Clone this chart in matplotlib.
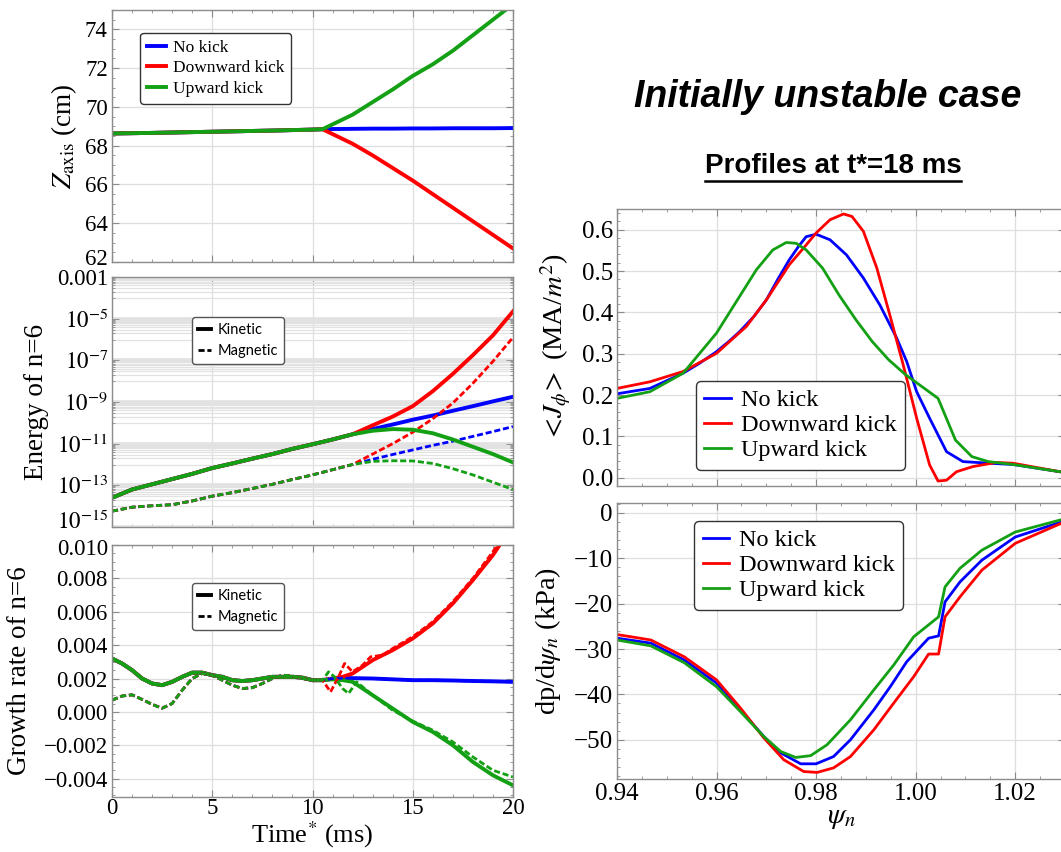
import numpy as np
import matplotlib
matplotlib.use("Agg")
import matplotlib.pyplot as plt
import matplotlib.transforms as mtransforms
from matplotlib.ticker import MultipleLocator, FixedLocator, FuncFormatter, NullFormatter
from matplotlib.lines import Line2D

plt.rcParams['font.family'] = ['Liberation Serif', 'DejaVu Serif']
plt.rcParams['mathtext.fontset'] = 'stix'

BLUE, RED, GREEN = '#0000ff', '#ff0000', '#14a014'
cases = ['No kick', 'Downward kick', 'Upward kick']

# ---- Z_axis vs time
t_z_pre = [0, 2, 4, 6, 8, 10, 10.5]
z_pre = [68.63, 68.66, 68.70, 68.74, 68.78, 68.83, 68.85]
t_z_post = [10.5, 11, 12, 13, 14, 15, 16, 17, 18, 19, 20]
z_nokick = [68.85, 68.86, 68.87, 68.88, 68.88, 68.89, 68.89, 68.90, 68.90, 68.90, 68.91]
z_down = [68.85, 68.6, 68.1, 67.5, 66.85, 66.2, 65.5, 64.8, 64.1, 63.4, 62.7]
z_up = [68.85, 69.1, 69.6, 70.25, 70.9, 71.6, 72.2, 72.9, 73.7, 74.5, 75.3]

# ---- energy of n=6 (log10 values)
t_e_pre = [0, 1, 2, 3, 4, 5, 6, 7, 8, 9, 10, 11, 12]
ek_pre = [-13.6, -13.2, -12.95, -12.7, -12.45, -12.17, -11.95, -11.72, -11.5, -11.25, -11.03, -10.8, -10.55]
em_pre = [-14.24, -14.05, -13.98, -13.93, -13.75, -13.52, -13.35, -13.15, -12.95, -12.72, -12.5, -12.25, -12.0]
t_e_post = [12, 13, 14, 15, 16, 17, 18, 19, 20]
ek_nokick = [-10.55, -10.3, -10.08, -9.85, -9.65, -9.42, -9.2, -8.97, -8.75]
ek_down = [-10.55, -10.12, -9.7, -9.2, -8.48, -7.65, -6.75, -5.8, -4.65]
ek_up = [-10.55, -10.38, -10.3, -10.33, -10.5, -10.8, -11.15, -11.5, -11.9]
em_nokick = [-12.0, -11.75, -11.52, -11.3, -11.08, -10.88, -10.65, -10.42, -10.18]
em_down = [-12.0, -11.5, -11.0, -10.45, -9.8, -9.05, -8.1, -7.05, -5.9]
em_up = [-12.0, -11.85, -11.82, -11.83, -11.95, -12.2, -12.5, -12.85, -13.2]

# ---- growth rate of n=6
t_g_pre = [0, 0.5, 1, 1.5, 2, 2.5, 3, 3.5, 4, 4.5, 5, 5.5, 6, 6.5, 7, 7.5, 8, 8.5, 9, 9.5, 10, 10.5]
gk_pre = [0.0032, 0.0029, 0.0025, 0.0020, 0.0017, 0.0016, 0.0018, 0.0021, 0.00235, 0.00235, 0.0022,
          0.0021, 0.0019, 0.00185, 0.0019, 0.0020, 0.0021, 0.0021, 0.0021, 0.00205, 0.0019, 0.0019]
gm_pre = [0.0007, 0.00095, 0.00102, 0.00075, 0.00045, 0.00022, 0.0005, 0.0013, 0.0020, 0.0023, 0.0022,
          0.0019, 0.0016, 0.0014, 0.00145, 0.0017, 0.0020, 0.0022, 0.00215, 0.0020, 0.0019, 0.0019]
t_gk_post = [10.5, 11, 11.5, 12, 13, 14, 15, 16, 17, 18, 19, 20]
gk_nokick = [0.0019, 0.0020, 0.00202, 0.00202, 0.0020, 0.00195, 0.0019, 0.0019, 0.00188, 0.00185, 0.00183, 0.0018]
gk_down = [0.0019, 0.0020, 0.0021, 0.0023, 0.0031, 0.0037, 0.0044, 0.0053, 0.0065, 0.0079, 0.0094, 0.0112]
gk_up = [0.0019, 0.00195, 0.0019, 0.0018, 0.0010, 0.0002, -0.0006, -0.0012, -0.0020, -0.0030, -0.0038, -0.0044]
t_gm_down = [10.5, 10.9, 11.3, 11.6, 12.0, 12.5, 12.9, 13.5, 14, 15, 16, 17, 18, 19, 20]
gm_down = [0.0019, 0.0012, 0.0021, 0.0029, 0.0024, 0.0028, 0.0033, 0.0034, 0.0038, 0.0045, 0.0054,
           0.0066, 0.0080, 0.0096, 0.0114]
t_gm_up = [10.5, 10.8, 11.1, 11.5, 11.8, 12.2, 13, 14, 15, 16, 17, 18, 19, 20]
gm_up = [0.0019, 0.0024, 0.0021, 0.0014, 0.0011, 0.0018, 0.0010, 0.0001, -0.00055, -0.0011, -0.0018,
         -0.0027, -0.0035, -0.0039]

# ---- <J_phi> profiles at t*=18 ms
psi_j_nokick = [0.94, 0.9466, 0.9533, 0.9566, 0.96, 0.9625, 0.9646, 0.9675, 0.97, 0.9723, 0.9746, 0.9765,
                0.978, 0.98, 0.9828, 0.9861, 0.9895, 0.9928, 0.9962, 0.9982, 1.0002, 1.0028, 1.0062,
                1.0095, 1.0149, 1.0196, 1.029]
j_nokick = [0.203, 0.216, 0.253, 0.277, 0.305, 0.33, 0.353, 0.39, 0.43, 0.48, 0.527, 0.56,
            0.583, 0.589, 0.5755, 0.539, 0.483, 0.418, 0.3375, 0.281, 0.208, 0.144, 0.063,
            0.039, 0.035, 0.032, 0.0145]
psi_j_down = [0.94, 0.9466, 0.9533, 0.96, 0.966, 0.97, 0.9746, 0.978, 0.98, 0.9828, 0.9855, 0.9872,
              0.9895, 0.9922, 0.9948, 0.9975, 1.0002, 1.0028, 1.0045, 1.0062, 1.0082, 1.0115, 1.0162,
              1.0196, 1.029]
j_down = [0.216, 0.232, 0.257, 0.301, 0.366, 0.43, 0.515, 0.563, 0.592, 0.624, 0.638, 0.632,
          0.596, 0.507, 0.394, 0.273, 0.144, 0.031, -0.008, -0.006, 0.0145, 0.027, 0.037,
          0.035, 0.0145]
psi_j_up = [0.94, 0.9466, 0.9533, 0.96, 0.9646, 0.968, 0.9713, 0.974, 0.976, 0.978, 0.9813, 0.9846,
            0.988, 0.9913, 0.9946, 0.998, 1.0013, 1.0045, 1.008, 1.0113, 1.0146, 1.0196, 1.029]
j_up = [0.192, 0.208, 0.253, 0.35, 0.438, 0.503, 0.551, 0.569, 0.567, 0.551, 0.507, 0.442,
        0.382, 0.329, 0.285, 0.249, 0.22, 0.192, 0.091, 0.051, 0.039, 0.032, 0.0145]

# ---- dp/dpsi_n profiles
psi_p = [0.94, 0.9468, 0.9535, 0.96, 0.9648, 0.9695, 0.9729, 0.9769, 0.98, 0.9835, 0.9869, 0.9916,
         0.9949, 0.9982, 1.0026, 1.0046, 1.0059, 1.0089, 1.0133, 1.02, 1.0292]
p_nokick = [-27.6, -28.7, -32.4, -37.5, -43.4, -49.3, -52.9, -55.3, -55.3, -53.7, -50.0, -43.4,
            -38.3, -32.8, -27.6, -27.1, -19.6, -15.2, -10.4, -5.3, -2.0]
psi_p_down = [0.94, 0.9468, 0.9535, 0.96, 0.9648, 0.9695, 0.9735, 0.9775, 0.9802, 0.9835, 0.9869,
              0.9916, 0.9956, 0.9996, 1.0026, 1.0046, 1.0059, 1.0089, 1.0133, 1.02, 1.0292]
p_down = [-26.8, -28.0, -31.7, -36.8, -43.0, -49.6, -54.4, -57.0, -57.2, -56.2, -53.7, -47.8,
          -41.9, -36.1, -31.1, -31.1, -22.9, -18.5, -12.6, -6.7, -2.3]
psi_p_up = [0.94, 0.9468, 0.9535, 0.96, 0.9648, 0.9695, 0.9729, 0.9759, 0.9789, 0.9822, 0.9869,
            0.9916, 0.9956, 0.9996, 1.0046, 1.0059, 1.0089, 1.0133, 1.02, 1.0292]
p_up = [-28.0, -29.3, -33.0, -38.3, -43.8, -49.3, -52.6, -53.9, -53.5, -51.1, -45.6, -39.0,
        -33.5, -27.3, -22.9, -16.3, -12.2, -8.2, -4.2, -1.5]


W, H = 1061, 852
fig = plt.figure(figsize=(W / 100, H / 100), dpi=100)


def box(l, r, t, b):
    return [l / W, 1 - b / H, (r - l) / W, (b - t) / H]


def minus_fmt(fmt):
    return FuncFormatter(lambda v, p: (fmt % v).replace('-', '\u2212'))


def frame(ax, size):
    for s in ax.spines.values():
        s.set_color('#8c8c8c')
        s.set_linewidth(1.0)
    ax.tick_params(which='both', direction='in', top=True, right=True, color='#8c8c8c',
                   labelsize=size, pad=3)
    ax.tick_params(which='major', length=5)
    ax.tick_params(which='minor', length=2.5)
    ax.grid(True, which='major', color='#dedede', lw=0.9)
    ax.set_axisbelow(True)


LS, RS = 16.5, 18
lwk, lwm = 2.8, 2.0
dash = (0, (2.2, 1.0))

# ---------- Z_axis
ax1 = fig.add_axes(box(112, 513, 10, 262))
frame(ax1, LS)
for z, c, lab in [(z_nokick, BLUE, cases[0]), (z_down, RED, cases[1]), (z_up, GREEN, cases[2])]:
    ax1.plot(t_z_pre + t_z_post[1:], z_pre + z[1:], color=c, lw=lwk, label=lab)
ax1.set_xlim(0, 20)
ax1.set_ylim(62, 75)
ax1.xaxis.set_major_locator(MultipleLocator(5))
ax1.xaxis.set_minor_locator(MultipleLocator(1))
ax1.yaxis.set_major_locator(MultipleLocator(2))
ax1.yaxis.set_minor_locator(MultipleLocator(0.5))
ax1.tick_params(labelbottom=False)
ax1.set_ylabel(r'$Z_{\mathrm{axis}}$ (cm)', fontsize=19.5)
ax1.yaxis.set_label_coords(-0.082, 0.5)
ax1.legend(loc='upper left', bbox_to_anchor=(0.07, 0.91), borderaxespad=0, fontsize=12.5,
           handlelength=1.1, handletextpad=0.4, labelspacing=0.25, fancybox=True,
           edgecolor='#333333', framealpha=1)

# ---------- energy
ax2 = fig.add_axes(box(112, 513, 277, 527))
frame(ax2, LS)
ax2.set_yscale('log')
majors = [1e-15, 1e-13, 1e-11, 1e-9, 1e-7, 1e-5, 1e-3]
minors = [j * m / 10 for m in majors for j in range(1, 10)]
ax2.yaxis.set_major_locator(FixedLocator(majors))
ax2.yaxis.set_minor_locator(FixedLocator(minors))
ax2.yaxis.set_minor_formatter(NullFormatter())
ax2.yaxis.set_major_formatter(FuncFormatter(
    lambda v, p: '0.001' if v > 5e-4 else r'$10^{%d}$' % round(np.log10(v))))
ax2.grid(True, which='major', axis='y', color='#e2e2e2', lw=3.4)
ax2.grid(True, which='minor', axis='y', color='#e2e2e2', lw=0.9)
for ek, em, c in [(ek_nokick, em_nokick, BLUE), (ek_down, em_down, RED), (ek_up, em_up, GREEN)]:
    tt = t_e_pre + t_e_post[1:]
    ax2.plot(tt, 10 ** np.array(ek_pre + ek[1:]), color=c, lw=lwk)
    ax2.plot(tt, 10 ** np.array(em_pre + em[1:]), color=c, lw=lwm, ls=dash)
ax2.set_xlim(0, 20)
ax2.set_ylim(1e-15, 1e-3)
ax2.xaxis.set_major_locator(MultipleLocator(5))
ax2.xaxis.set_minor_locator(MultipleLocator(1))
ax2.tick_params(labelbottom=False)
ax2.set_ylabel('Energy of n=6', fontsize=19.5)
ax2.yaxis.set_label_coords(-0.157, 0.5)
kin_handles = [Line2D([], [], color='k', lw=2.8), Line2D([], [], color='k', lw=2.0, ls=dash)]
leg_kw = dict(loc='upper left', borderaxespad=0, handlelength=0.9, handletextpad=0.45,
              labelspacing=0.5, fancybox=True, edgecolor='#555555', framealpha=1,
              prop={'family': 'Lato', 'size': 10.5})
ax2.legend(kin_handles, ['Kinetic', 'Magnetic'], bbox_to_anchor=(0.2, 0.84), **leg_kw)

# ---------- growth rate
ax3 = fig.add_axes(box(112, 513, 545, 797))
frame(ax3, LS)
for gk, c in [(gk_nokick, BLUE), (gk_down, RED), (gk_up, GREEN)]:
    ax3.plot(t_g_pre + t_gk_post[1:], gk_pre + gk[1:], color=c, lw=lwk)
ax3.plot(t_g_pre + t_gk_post[1:], gm_pre + gk_nokick[1:], color=BLUE, lw=lwm, ls=dash)
ax3.plot(t_g_pre + t_gm_down[1:], gm_pre + gm_down[1:], color=RED, lw=lwm, ls=dash)
ax3.plot(t_g_pre + t_gm_up[1:], gm_pre + gm_up[1:], color=GREEN, lw=lwm, ls=dash)
ax3.set_xlim(0, 20)
ax3.set_ylim(-0.0051, 0.0100)
ax3.xaxis.set_major_locator(MultipleLocator(5))
ax3.xaxis.set_minor_locator(MultipleLocator(1))
ax3.xaxis.set_major_formatter(minus_fmt('%d'))
ax3.yaxis.set_major_locator(MultipleLocator(0.002))
ax3.yaxis.set_minor_locator(MultipleLocator(0.0005))
ax3.yaxis.set_major_formatter(minus_fmt('%.3f'))
ax3.tick_params(axis='x', pad=1)
ax3.set_ylabel('Growth rate of n=6', fontsize=19.5)
ax3.yaxis.set_label_coords(-0.2, 0.5)
ax3.set_xlabel(r'Time$^{*}$ (ms)', fontsize=19, labelpad=0)
ax3.legend(kin_handles, ['Kinetic', 'Magnetic'], bbox_to_anchor=(0.2, 0.85), **leg_kw)

# ---------- J_phi profile
ax4 = fig.add_axes(box(617, 1065, 209, 486))
frame(ax4, RS)
ax4.plot(psi_j_nokick, j_nokick, color=BLUE, lw=2.0, label=cases[0])
ax4.plot(psi_j_down, j_down, color=RED, lw=2.0, label=cases[1])
ax4.plot(psi_j_up, j_up, color=GREEN, lw=2.0, label=cases[2])
ax4.set_xlim(0.94, 1.03)
ax4.set_ylim(-0.02, 0.65)
ax4.xaxis.set_major_locator(MultipleLocator(0.02))
ax4.xaxis.set_minor_locator(MultipleLocator(0.005))
ax4.yaxis.set_major_locator(MultipleLocator(0.1))
ax4.yaxis.set_minor_locator(MultipleLocator(0.02))
ax4.yaxis.set_major_formatter(minus_fmt('%.1f'))
ax4.tick_params(labelbottom=False)
ax4.set_ylabel(r'$<\!J_{\phi}\!>$ (MA/$m^2$)', fontsize=20.5)
ax4.yaxis.set_label_coords(-0.098, 0.5)
rleg_kw = dict(loc='upper left', borderaxespad=0, fontsize=17.5, handlelength=1.1,
               handletextpad=0.4, labelspacing=0.12, borderpad=0.35, fancybox=True,
               edgecolor='#333333', framealpha=1)
ax4.legend(bbox_to_anchor=(0.176, 0.38), **rleg_kw)

# ---------- dp/dpsi profile
ax5 = fig.add_axes(box(617, 1065, 503, 779))
frame(ax5, RS)
ax5.plot(psi_p, p_nokick, color=BLUE, lw=2.0, label=cases[0])
ax5.plot(psi_p_down, p_down, color=RED, lw=2.0, label=cases[1])
ax5.plot(psi_p_up, p_up, color=GREEN, lw=2.0, label=cases[2])
ax5.set_xlim(0.94, 1.03)
ax5.set_ylim(-58.65, 2.2)
ax5.xaxis.set_major_locator(FixedLocator([0.94, 0.96, 0.98, 1.00, 1.02]))
ax5.xaxis.set_minor_locator(MultipleLocator(0.005))
ax5.xaxis.set_major_formatter(minus_fmt('%.2f'))
ax5.yaxis.set_major_locator(MultipleLocator(10))
ax5.yaxis.set_minor_locator(MultipleLocator(2))
ax5.yaxis.set_major_formatter(minus_fmt('%d'))
ax5.set_ylabel(r'dp/d$\psi_n$ (kPa)', fontsize=20.5)
ax5.yaxis.set_label_coords(-0.12, 0.5)
ax5.set_xlabel(r'$\psi_n$', fontsize=21, labelpad=0)
ax5.legend(bbox_to_anchor=(0.172, 0.935), **rleg_kw)

# ---------- titles
fig.text(828 / W, 1 - 97 / H, 'Initially unstable case', ha='center', va='center',
         fontsize=27, fontweight='bold', fontstyle='italic', family='Liberation Sans')
sub = fig.text(833 / W, 1 - 166 / H, 'Profiles at t*=18 ms', ha='center', va='center',
               fontsize=20, fontweight='bold', family='Liberation Sans')
fig.canvas.draw()
bb = sub.get_window_extent()
fig.add_artist(Line2D([bb.x0 / W, bb.x1 / W], [(bb.y0 - 1.5) / H, (bb.y0 - 1.5) / H],
                      color='k', lw=1.8, transform=fig.transFigure))


# nudge the end labels that sit where two panels meet
def nudge(ax, text, dy):
    for lab in ax.get_yticklabels():
        if lab.get_text() == text:
            lab.set_transform(lab.get_transform() +
                              mtransforms.ScaledTranslation(0, dy / 100, fig.dpi_scale_trans))


nudge(ax1, '62', 5)
nudge(ax2, r'$10^{-15}$', 7)
nudge(ax3, '0.010', -2)

fig.savefig('out.png', dpi=100)
